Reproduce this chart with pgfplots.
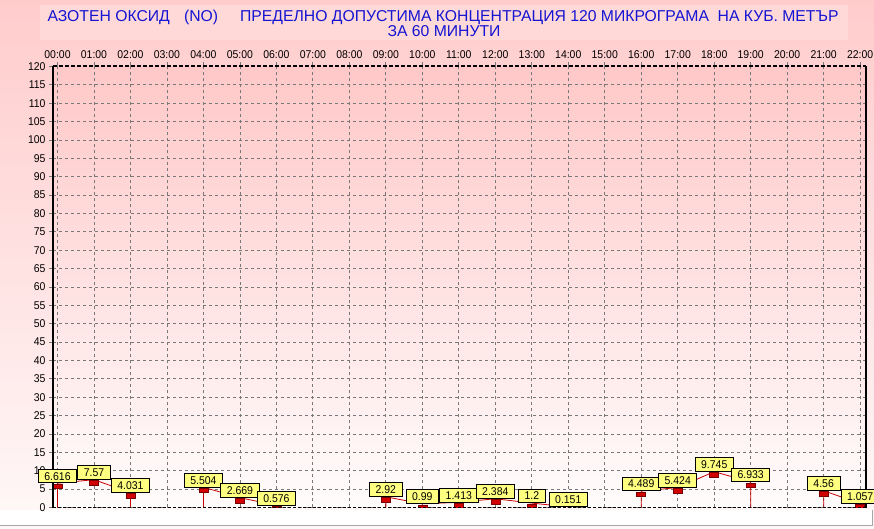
\documentclass[border=0pt]{standalone}
\usepackage{pgfplots}
\pgfplotsset{compat=1.18}
\usepackage{pgfplotstable}
\usepackage{fontspec}
\setmainfont{Liberation Sans}
\newfontfamily\smallfont[FakeStretch=0.93]{Liberation Sans}
\definecolor{bgtop}{RGB}{255,204,204}
\definecolor{bgbot}{RGB}{255,248,248}
\definecolor{titlebox}{RGB}{255,216,216}
\definecolor{plottop}{RGB}{255,200,200}
\definecolor{plotbot}{RGB}{255,252,252}
\definecolor{titleblue}{RGB}{20,20,210}
\definecolor{lblyellow}{RGB}{255,255,128}
\definecolor{linered}{RGB}{200,0,0}
\definecolor{markred}{RGB}{210,0,0}
\definecolor{markedge}{RGB}{120,0,0}
\definecolor{gridgray}{RGB}{120,120,120}
\pgfdeclareplotmark{redbar}{%
  \pgfpathrectangle{\pgfqpoint{-4.5bp}{-5.5bp}}{\pgfqpoint{9bp}{4.5bp}}%
  \pgfusepathqfillstroke}

\pgfplotstableread{
x y
0 0
0 6.616
1 7.57
2 4.031
2 0
3 nan
4 0
4 5.504
5 2.669
6 0.576
6 0
7 nan
9 0
9 2.92
10 0.99
11 1.413
12 2.384
13 1.2
14 0.151
14 0
15 nan
16 0
16 4.489
17 5.424
18 9.745
19 6.933
19 0
20 nan
21 0
21 4.56
22 1.057
22 0
}\lines

\pgfplotstableread{
x y label
0 6.616 6.616
1 7.57 7.57
2 4.031 4.031
4 5.504 5.504
5 2.669 2.669
6 0.576 0.576
9 2.92 2.92
10 0.99 0.99
11 1.413 1.413
12 2.384 2.384
13 1.2 1.2
14 0.151 0.151
16 4.489 4.489
17 5.424 5.424
18 9.745 9.745
19 6.933 6.933
21 4.56 4.56
22 1.057 1.057
}\points

\pgfplotsset{
  common/.style={
    at={(53bp,21.5bp)}, anchor=south west,
    scale only axis, width=813bp, height=441bp,
    xmin=-0.123, xmax=22.16, ymin=0, ymax=120,
  }
}

\begin{document}
\begin{tikzpicture}
\useasboundingbox (0,0) rectangle (874bp,529bp);
\clip (0,0) rectangle (874bp,529bp);
\shade[top color=bgtop, bottom color=bgbot] (0,0) rectangle (874bp,529bp);
\fill[white] (0,3bp) rectangle (872bp,19bp);
\draw[gray!70, line width=1bp] (0,3bp) -- (872bp,3bp);
\draw[gray!70, line width=1bp] (872bp,3bp) -- (872bp,19bp);
\fill[titlebox] (40bp,489bp) rectangle (848bp,524bp);
\node[font=\fontsize{15.8}{18}\selectfont, text=titleblue, inner sep=0pt] at (443bp,512bp)
  {АЗОТЕН ОКСИД\hspace{0.9em}(NO)\hspace{1.4em}ПРЕДЕЛНО ДОПУСТИМА КОНЦЕНТРАЦИЯ 120 МИКРОГРАМА\hspace{0.55em}НА КУБ. МЕТЪР};
\node[font=\fontsize{15.8}{18}\selectfont, text=titleblue, inner sep=0pt] at (444bp,498bp)
  {ЗА 60 МИНУТИ};
\begin{axis}[
  common,
  xtick={0,...,22},
  xticklabels={00:00,01:00,02:00,03:00,04:00,05:00,06:00,07:00,08:00,09:00,10:00,11:00,12:00,13:00,14:00,15:00,16:00,17:00,18:00,19:00,20:00,21:00,22:00},
  ytick={0,5,...,120},
  xtick pos=upper, xticklabel pos=upper,
  ytick pos=left,
  tick align=outside,
  major tick length=4bp,
  tick style={gridgray, line width=0.8bp},
  /pgf/number format/assume math mode=true,
  ticklabel style={font=\smallfont\fontsize{11.3}{13}\selectfont},
  grid=major,
  major grid style={gridgray, dash pattern=on 3bp off 3bp, line width=0.8bp},
  axis line style={draw=none},
  axis background/.style={top color=plottop, bottom color=plotbot},
  clip=true, clip marker paths=true,
  unbounded coords=jump,
]
\addplot[linered, line width=0.8bp, no marks] table[x=x, y=y] {\lines};
\addplot[only marks, mark=redbar, mark options={fill=markred, draw=markedge, line width=0.6bp}]
  table[x=x, y=y] {\points};
\end{axis}
\begin{axis}[
  common, hide axis, clip=false,
]
\addplot[only marks, mark=none,
  point meta=explicit symbolic,
  nodes near coords,
  every node near coord/.append style={anchor=south, yshift=0pt, fill=lblyellow, draw=black,
    line width=0.7bp, inner xsep=6bp, inner ysep=2.8bp, text height=8.2bp, text depth=0pt,
    font=\smallfont\fontsize{11.3}{13}\selectfont, text=black}
] table[x=x, y=y, meta=label] {\points};
\draw[black, line width=2.6bp] (rel axis cs:0,0) -- (rel axis cs:0,1);
\draw[black, line width=1.8bp] (rel axis cs:1,0) -- (rel axis cs:1,1);
\draw[black, line width=2bp, dash pattern=on 4bp off 2bp] (rel axis cs:0,1) -- (rel axis cs:1,1);
\draw[black, line width=0.9bp, dash pattern=on 3bp off 2bp] (rel axis cs:0,0) -- (rel axis cs:1,0);
\end{axis}
\end{tikzpicture}
\end{document}
